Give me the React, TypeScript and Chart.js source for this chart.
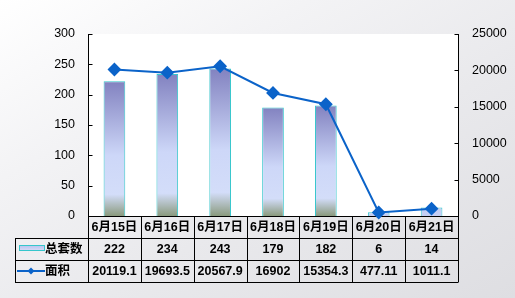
import React, { useEffect, useRef } from 'react';
import { Chart, registerables } from 'chart.js';

Chart.register(...registerables);

const categories = ['6月15日', '6月16日', '6月17日', '6月18日', '6月19日', '6月20日', '6月21日'];
const totalUnits = [222, 234, 243, 179, 182, 6, 14];
const areaValues = [20119.1, 19693.5, 20567.9, 16902, 15354.3, 477.11, 1011.1];
const seriesNames = ['总套数', '面积'];
const leftMax = 300;
const leftStep = 50;
const rightMax = 25000;
const rightStep = 5000;

const FONT = '"Liberation Sans", "Noto Sans CJK SC", Arial, sans-serif';
const LINE_COLOR = '#0b63c9';
const BAR_BORDER = '#36c6cc';

function barGradient(ctx: CanvasRenderingContext2D, top: number, bottom: number) {
  const g = ctx.createLinearGradient(0, top, 0, bottom);
  g.addColorStop(0, '#8282c0');
  g.addColorStop(0.55, '#cdd7f8');
  g.addColorStop(0.84, '#d3ddf9');
  g.addColorStop(1, '#8a9a7e');
  return g;
}

const tablePlugin = {
  id: 'tablePlugin',
  beforeDraw(chart: any) {
    const { ctx, chartArea: a } = chart;
    ctx.save();
    ctx.fillStyle = '#ffffff';
    ctx.fillRect(a.left, a.top, a.right - a.left, a.bottom - a.top);
    ctx.restore();
  },
  beforeDatasetsDraw(chart: any) {
    const { ctx, chartArea: a, scales } = chart;
    const xs = scales.x;
    const n = categories.length;
    const w = (a.right - a.left) / n;
    const rowH = 22;
    const r0 = a.bottom;
    const r1 = r0 + rowH;
    const r2 = r1 + rowH;
    const r3 = r2 + rowH;
    const legendLeft = 15;
    ctx.save();
    ctx.strokeStyle = '#000';
    ctx.lineWidth = 1;
    const line = (x1: number, y1: number, x2: number, y2: number) => {
      ctx.beginPath();
      ctx.moveTo(x1, y1);
      ctx.lineTo(x2, y2);
      ctx.stroke();
    };
    const L = Math.round(a.left) + 0.5;
    const R = Math.round(a.right) + 0.5;
    line(L, a.top, L, r3);
    line(R, a.top, R, r3);
    scales.y.ticks.forEach((t: any) => {
      const py = Math.round(scales.y.getPixelForValue(t.value)) + 0.5;
      line(L, py, L + 4, py);
    });
    scales.y1.ticks.forEach((t: any) => {
      const py = Math.round(scales.y1.getPixelForValue(t.value)) + 0.5;
      line(R - 4, py, R, py);
    });
    line(L, Math.round(r0) + 0.5, R, Math.round(r0) + 0.5);
    line(legendLeft + 0.5, Math.round(r1) + 0.5, R, Math.round(r1) + 0.5);
    line(legendLeft + 0.5, Math.round(r2) + 0.5, R, Math.round(r2) + 0.5);
    line(legendLeft + 0.5, Math.round(r3) + 0.5, R, Math.round(r3) + 0.5);
    line(legendLeft + 0.5, Math.round(r1), legendLeft + 0.5, Math.round(r3) + 1);
    for (let i = 1; i < n; i++) {
      const px = Math.round(a.left + i * w) + 0.5;
      line(px, r0, px, r3);
    }
    ctx.fillStyle = '#000';
    ctx.textAlign = 'center';
    ctx.textBaseline = 'middle';
    ctx.font = 'bold 12.5px ' + FONT;
    categories.forEach((c, i) => {
      const cx = xs.getPixelForValue(i);
      ctx.fillText(c, cx, r0 + rowH / 2 + 1);
      ctx.fillText(String(totalUnits[i]), cx, r1 + rowH / 2 + 1);
      ctx.fillText(String(areaValues[i]), cx, r2 + rowH / 2 + 1);
    });
    const sy = r1 + 7;
    const sg = ctx.createLinearGradient(0, sy, 0, sy + 6);
    sg.addColorStop(0, '#b8c0ee');
    sg.addColorStop(1, '#d8def8');
    ctx.fillStyle = sg;
    ctx.fillRect(19, sy, 26, 6);
    ctx.strokeStyle = BAR_BORDER;
    ctx.strokeRect(19.5, sy + 0.5, 25, 5);
    const ly = r2 + rowH / 2;
    ctx.strokeStyle = LINE_COLOR;
    ctx.lineWidth = 2;
    line(17, ly, 45, ly);
    ctx.fillStyle = LINE_COLOR;
    ctx.beginPath();
    ctx.moveTo(31, ly - 3.5);
    ctx.lineTo(34.5, ly);
    ctx.lineTo(31, ly + 3.5);
    ctx.lineTo(27.5, ly);
    ctx.closePath();
    ctx.fill();
    ctx.fillStyle = '#000';
    ctx.textAlign = 'left';
    ctx.fillText(seriesNames[0], 45, r1 + rowH / 2 + 1);
    ctx.fillText(seriesNames[1], 45, r2 + rowH / 2 + 1);
    ctx.restore();
  },
};

export default function App() {
  const ref = useRef<HTMLCanvasElement | null>(null);
  useEffect(() => {
    if (!ref.current) return;
    const chart = new Chart(ref.current, {
      type: 'bar',
      data: {
        labels: categories,
        datasets: [
          {
            type: 'line',
            label: seriesNames[1],
            data: areaValues,
            yAxisID: 'y1',
            borderColor: LINE_COLOR,
            backgroundColor: LINE_COLOR,
            borderWidth: 2,
            pointStyle: 'rectRot',
            pointRadius: 5.5,
            pointBackgroundColor: LINE_COLOR,
            pointBorderColor: LINE_COLOR,
            tension: 0,
            clip: false,
            order: 0,
          } as any,
          {
            type: 'bar',
            label: seriesNames[0],
            data: totalUnits,
            yAxisID: 'y',
            borderColor: BAR_BORDER,
            borderWidth: 1,
            borderSkipped: 'bottom',
            barPercentage: 0.41,
            categoryPercentage: 1,
            backgroundColor: (c: any) => {
              const ch = c.chart;
              const s = ch.scales && ch.scales.y;
              if (!s || c.dataIndex === undefined) return '#c6cef4';
              const top = s.getPixelForValue(totalUnits[c.dataIndex]);
              const bottom = s.getPixelForValue(0);
              if (!isFinite(top) || !isFinite(bottom)) return '#c6cef4';
              if (bottom - top < 15) return '#c4cef4';
              return barGradient(ch.ctx, top, bottom);
            },
            order: 1,
          } as any,
        ],
      },
      options: {
        responsive: false,
        animation: false,
        layout: { padding: { top: 34, left: 0, right: 0, bottom: 0 }, autoPadding: false } as any,
        plugins: {
          legend: { display: false },
          tooltip: { enabled: false },
        },
        scales: {
          x: {
            grid: { display: false, drawTicks: false },
            border: { display: false },
            ticks: { display: false },
            afterFit: (s: any) => {
              s.height = 82;
            },
          },
          y: {
            position: 'left',
            min: 0,
            max: leftMax,
            grid: { display: false, drawTicks: false },
            border: { display: false },
            ticks: {
              stepSize: leftStep,
              color: '#000',
              padding: 13,
              font: { family: FONT, size: 12.5 },
              callback: (v: any) => String(v),
            },
            afterFit: (s: any) => {
              s.width = 88;
            },
          },
          y1: {
            position: 'right',
            min: 0,
            max: rightMax,
            grid: { display: false, drawTicks: false },
            border: { display: false },
            ticks: {
              stepSize: rightStep,
              color: '#000',
              padding: 14,
              font: { family: FONT, size: 12.5 },
              callback: (v: any) => String(v),
            },
            afterFit: (s: any) => {
              s.width = 57;
            },
          },
        },
      } as any,
      plugins: [tablePlugin],
    });
    return () => chart.destroy();
  }, []);
  return (
    <div
      style={{
        position: 'fixed',
        left: 0,
        top: 0,
        width: 515,
        height: 298,
        background:
          'linear-gradient(150deg, #ffffff 0%, #f3f3f5 30%, #e9e9ec 60%, #dedee2 100%)',
      }}
    >
      <canvas ref={ref} width={515} height={298} style={{ display: 'block' }} />
    </div>
  );
}
